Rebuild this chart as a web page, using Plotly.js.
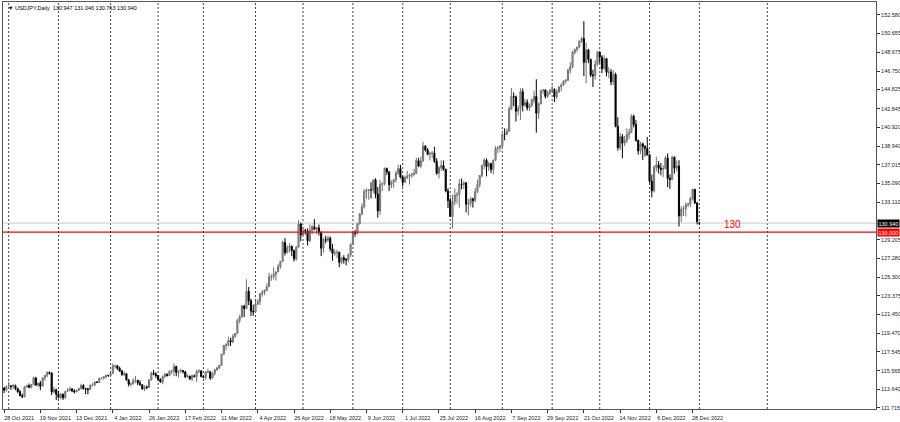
<!DOCTYPE html>
<html>
<head>
<meta charset="utf-8">
<script src="https://cdn.plot.ly/plotly-3.0.1.min.js"></script>
<style>
  html, body { margin: 0; padding: 0; background: #fff; }
  #graph { width: 900px; height: 422px; }
</style>
</head>
<body>
<div id="graph"></div>
<script>
// USDJPY daily candles, 28 Oct 2021 .. 2 Jan 2023 (one bar per weekday).

const symbolName = "USDJPY,Daily";

const opens = [
  113.80,113.57,114.00,114.02,113.96,114.05,113.75,113.41,112.99,112.88,
  113.90,114.04,113.87,114.14,114.84,114.10,114.28,114.00,114.84,115.12,
  115.42,115.35,113.38,113.62,113.15,112.80,113.14,112.79,113.45,113.53,
  113.71,113.48,113.40,113.56,113.73,114.05,113.72,113.69,113.63,114.09,
  114.11,114.42,114.38,114.81,114.83,114.96,115.10,115.08,115.31,116.11,
  116.11,115.84,115.56,115.21,115.28,114.63,114.19,114.20,114.59,114.59,
  114.31,114.11,113.68,113.91,113.85,114.66,115.36,115.24,115.10,114.68,
  114.42,114.98,115.22,115.09,115.53,115.55,116.04,115.41,115.58,115.61,
  115.48,114.93,115.02,114.75,115.08,114.97,115.52,115.56,114.99,114.89,
  115.46,115.48,114.82,115.29,115.67,115.87,116.14,117.30,118.22,118.28,
  118.73,118.58,119.16,119.46,120.81,121.18,122.33,122.05,123.85,122.86,
  121.79,121.70,122.52,122.79,123.60,123.76,123.94,124.33,125.35,125.40,
  125.60,125.87,126.41,126.97,128.92,127.87,128.40,128.52,128.09,127.23,
  128.43,130.84,129.71,130.17,130.12,129.10,130.20,130.56,130.28,130.45,
  129.97,128.33,129.22,129.17,129.37,128.27,127.79,127.87,127.90,126.86,
  127.33,127.12,127.11,127.63,128.70,129.95,129.87,130.87,131.89,132.64,
  134.25,134.37,134.40,134.39,135.44,133.96,132.21,134.96,135.05,136.63,
  136.25,134.93,135.20,135.45,136.12,136.60,135.72,135.18,135.68,135.85,
  135.93,136.01,136.11,137.43,136.86,137.42,138.94,138.55,138.10,138.17,
  138.22,137.38,136.12,136.69,136.93,136.55,134.28,133.28,131.62,133.16,
  133.84,133.90,135.00,134.95,135.12,132.90,132.99,133.47,133.28,134.22,
  134.95,135.88,136.95,137.47,136.80,137.13,136.52,137.48,138.71,138.80,
  138.96,140.20,140.19,140.48,142.81,144.10,144.06,142.58,142.86,144.60,
  143.18,143.48,142.92,143.19,143.74,144.11,142.37,143.35,144.72,144.77,
  144.12,144.43,144.74,144.82,144.08,144.58,145.10,145.30,145.70,145.78,
  146.88,147.22,148.70,148.98,149.24,149.88,150.13,147.65,148.95,147.98,
  146.35,146.27,147.47,148.70,148.20,147.00,148.05,146.61,146.65,145.62,
  146.40,141.00,138.78,139.93,139.26,139.53,140.17,140.36,142.06,141.20,
  139.55,138.45,139.18,138.90,138.69,138.05,135.30,134.30,136.76,137.00,
  136.65,136.55,136.60,137.72,135.60,135.48,137.80,136.65,136.88,131.68,
  132.40,132.45,132.85,132.90,133.48,134.45,133.05,130.947
];

const highs = [
  113.88,114.05,114.44,114.08,114.23,114.15,113.82,113.60,113.21,114.00,
  114.13,114.26,114.20,114.97,114.95,114.39,114.53,114.90,115.15,115.52,
  115.50,115.42,113.89,113.73,113.50,113.28,113.22,113.48,113.80,113.95,
  113.74,113.66,113.63,113.80,114.25,114.19,113.80,113.82,114.16,114.30,
  114.46,114.47,114.85,114.94,115.03,115.19,115.16,115.40,116.35,116.20,
  116.13,116.03,115.68,115.52,115.30,114.72,114.37,114.82,115.06,114.65,
  114.60,114.21,114.09,114.05,114.69,115.47,115.68,115.44,115.15,114.80,
  115.10,115.39,115.30,115.63,115.70,116.34,116.11,115.62,115.80,115.66,
  115.53,115.23,115.07,115.20,115.19,115.69,115.76,115.66,115.10,115.55,
  115.80,115.53,115.43,115.81,116.00,116.22,117.35,118.29,118.44,119.13,
  119.02,119.41,119.49,120.99,121.41,122.41,122.44,125.09,124.30,123.07,
  122.46,122.88,123.05,123.66,123.97,124.06,124.68,125.77,125.63,126.32,
  125.88,126.68,127.01,129.11,129.40,128.64,128.85,128.62,128.19,128.57,
  131.25,131.00,130.46,130.36,130.38,130.80,130.77,131.35,130.55,130.79,
  130.09,129.41,129.63,129.62,129.55,128.76,128.19,128.16,127.99,127.41,
  127.60,127.31,127.79,128.86,130.15,130.22,130.98,131.97,133.00,134.48,
  134.56,134.43,135.20,135.45,135.60,134.69,135.43,135.17,136.72,136.70,
  136.37,135.38,135.51,136.38,137.00,137.00,135.86,135.90,136.37,136.05,
  136.17,136.57,137.75,137.70,137.87,139.39,139.05,138.73,138.37,138.42,
  138.88,137.68,136.87,137.47,137.45,136.58,134.55,133.56,133.91,134.55,
  134.20,135.50,135.57,135.30,135.22,133.45,133.70,133.59,134.60,135.47,
  135.90,137.03,137.70,137.67,137.32,137.21,137.55,138.93,138.93,139.05,
  140.23,140.79,140.78,143.08,144.99,144.54,144.20,143.17,144.96,144.95,
  143.85,143.80,143.38,143.90,144.70,145.90,143.47,144.80,144.90,144.85,
  144.68,144.89,145.23,144.97,144.85,145.15,145.48,145.80,145.92,146.98,
  147.68,148.85,149.10,149.28,149.90,150.29,151.94,149.70,149.05,148.00,
  146.90,147.88,148.84,148.80,148.40,148.40,148.10,147.14,146.95,146.84,
  146.59,141.95,140.30,140.20,140.00,140.78,140.75,142.25,142.23,141.65,
  139.62,139.40,139.32,139.05,139.90,138.10,135.98,136.93,137.86,137.40,
  137.20,136.95,137.95,138.18,135.99,137.95,137.85,137.45,137.48,132.70,
  132.70,133.10,133.05,133.65,134.50,134.50,133.10,131.046
];

const lows = [
  113.26,113.42,113.80,113.59,113.68,113.56,113.30,112.94,112.73,112.82,
  113.83,113.76,113.75,114.10,114.00,113.86,113.59,113.95,114.55,114.92,
  115.19,113.06,113.27,112.53,112.70,112.63,112.55,112.67,113.40,113.45,
  113.36,113.22,113.36,113.49,113.64,113.63,113.15,113.14,113.61,113.95,
  114.00,114.30,114.34,114.68,114.65,114.82,114.96,115.00,115.24,115.81,
  115.68,115.49,115.05,115.03,114.56,113.95,113.95,114.19,114.31,114.10,
  114.05,113.63,113.47,113.66,113.79,114.55,115.11,114.84,114.55,114.34,
  114.17,114.82,114.98,115.01,115.25,115.04,115.02,114.88,115.34,115.30,
  114.84,114.85,114.61,114.50,114.92,114.41,115.33,114.90,114.80,114.64,
  115.36,114.65,114.81,115.08,115.60,115.76,116.08,117.27,117.70,118.09,
  118.17,118.45,119.02,119.40,120.52,121.11,121.18,122.03,122.42,121.28,
  121.30,121.67,122.41,122.42,123.29,123.44,123.93,124.30,124.94,125.07,
  124.97,125.85,126.19,126.92,127.58,127.76,127.90,127.51,126.94,127.03,
  128.40,129.05,129.66,129.75,128.62,128.97,129.80,130.26,129.80,129.64,
  127.51,127.86,128.86,128.98,128.00,127.03,127.52,127.30,126.36,126.66,
  126.72,126.55,126.87,127.43,128.66,129.52,129.76,130.77,131.75,132.45,
  133.48,133.38,133.50,134.09,133.52,131.50,131.79,134.26,134.84,135.94,
  134.27,134.54,134.62,135.16,135.95,135.58,134.74,135.10,135.52,134.95,
  135.62,135.79,136.07,136.81,136.63,137.28,138.38,137.98,137.45,137.68,
  137.20,135.96,135.58,136.37,136.38,134.14,132.51,131.58,130.40,132.80,
  132.95,132.54,134.45,134.50,132.04,131.73,132.65,132.55,133.10,134.05,
  134.65,135.70,136.55,135.80,136.36,136.15,136.00,137.45,138.20,138.35,
  138.70,139.55,140.08,140.43,142.70,143.10,141.50,142.15,141.68,142.55,
  143.05,142.65,142.60,143.00,143.40,140.34,141.80,143.27,144.36,143.90,
  143.98,144.28,144.60,143.53,143.84,144.47,144.65,145.25,145.43,145.77,
  146.49,147.05,148.48,148.73,149.10,149.68,146.23,145.47,147.60,146.13,
  145.10,145.85,147.28,147.58,146.52,146.90,146.20,146.00,145.28,145.30,
  140.90,138.48,138.55,137.68,138.95,139.25,139.70,140.30,140.90,139.40,
  138.05,138.10,137.50,137.88,137.95,135.10,133.62,134.12,136.30,136.10,
  135.90,135.72,136.55,134.68,134.50,135.40,136.10,136.30,130.58,131.05,
  131.68,131.62,132.62,132.60,133.30,132.92,130.80,130.763
];

const closes = [
  113.57,113.95,114.02,113.96,114.05,113.75,113.41,112.99,112.88,113.90,
  114.04,113.87,114.14,114.84,114.10,114.28,114.00,114.84,115.12,115.42,
  115.35,113.38,113.62,113.15,112.80,113.14,112.79,113.45,113.53,113.71,
  113.48,113.40,113.56,113.73,114.05,113.72,113.69,113.63,114.09,114.11,
  114.42,114.38,114.81,114.83,114.96,115.10,115.08,115.31,116.11,116.11,
  115.84,115.56,115.21,115.28,114.63,114.19,114.20,114.59,114.59,114.31,
  114.11,113.68,113.91,113.85,114.66,115.36,115.24,115.10,114.68,114.42,
  114.98,115.22,115.09,115.53,115.55,116.04,115.41,115.58,115.61,115.48,
  114.93,115.02,114.75,115.08,114.97,115.52,115.56,114.99,114.89,115.46,
  115.48,114.82,115.29,115.67,115.87,116.14,117.30,118.22,118.28,118.73,
  118.58,119.16,119.46,120.81,121.18,122.33,122.05,123.85,122.86,121.79,
  121.70,122.52,122.79,123.60,123.76,123.94,124.33,125.35,125.40,125.60,
  125.87,126.41,126.97,128.92,127.87,128.40,128.52,128.09,127.23,128.43,
  130.84,129.71,130.17,130.12,129.10,130.20,130.56,130.28,130.45,129.97,
  128.33,129.22,129.17,129.37,128.27,127.79,127.87,127.90,126.86,127.33,
  127.12,127.11,127.63,128.70,129.95,129.87,130.87,131.89,132.64,134.25,
  134.37,134.40,134.39,135.44,133.96,132.21,134.96,135.05,136.63,136.25,
  134.93,135.20,135.45,136.12,136.60,135.72,135.18,135.68,135.85,135.93,
  136.01,136.11,137.43,136.86,137.42,138.94,138.55,138.10,138.17,138.22,
  137.38,136.12,136.69,136.93,136.55,134.28,133.28,131.62,133.16,133.84,
  133.90,135.00,134.95,135.12,132.90,132.99,133.47,133.28,134.22,134.95,
  135.88,136.95,137.47,136.80,137.13,136.52,137.48,138.71,138.80,138.96,
  140.20,140.19,140.48,142.81,144.10,144.06,142.58,142.86,144.60,143.18,
  143.48,142.92,143.19,143.74,144.11,142.37,143.35,144.72,144.77,144.12,
  144.43,144.74,144.82,144.08,144.58,145.10,145.30,145.70,145.78,146.88,
  147.22,148.70,148.98,149.24,149.88,150.13,147.65,148.95,147.98,146.35,
  146.27,147.47,148.70,148.20,147.00,148.05,146.61,146.65,145.62,146.40,
  141.00,138.78,139.93,139.26,139.53,140.17,140.36,142.06,141.20,139.55,
  138.45,139.18,138.90,138.69,138.05,135.30,134.30,136.76,137.00,136.65,
  136.55,136.60,137.72,135.60,135.48,137.80,136.65,136.88,131.68,132.40,
  132.45,132.85,132.90,133.48,134.45,133.05,131.10,130.940
];

// date labels on the time scale (bar index -> text)
const xTickIdx = [0,16,32,48,64,80,96,112,128,144,160,176,192,208,224,240,256,272,288,304];
const xTickText = [
  "28 Oct 2021","19 Nov 2021","13 Dec 2021","4 Jan 2022","26 Jan 2022",
  "17 Feb 2022","11 Mar 2022","4 Apr 2022","26 Apr 2022","18 May 2022",
  "9 Jun 2022","1 Jul 2022","25 Jul 2022","16 Aug 2022","7 Sep 2022",
  "29 Sep 2022","21 Oct 2022","14 Nov 2022","6 Dec 2022","28 Dec 2022"
];

// first bar of each month -> dotted separators
const monthStartIdx = [2,24,47,68,88,111,132,154,176,197,220,242,263,285,307,337];

const yTickVals = [152.580,150.655,148.675,146.750,144.825,142.845,140.920,138.940,137.015,
  135.090,133.110,129.205,127.280,125.300,123.375,121.450,119.470,117.545,115.565,113.640,111.715];

const levelPrice = 130.000;
const levelLabel = "130";

const n = closes.length;
const xs = closes.map((_, i) => i);
const lastOpen = opens[n - 1];
const lastHigh = highs[n - 1];
const lastLow = lows[n - 1];
const lastClose = closes[n - 1];

const candles = {
  type: "candlestick",
  x: xs,
  open: opens,
  high: highs,
  low: lows,
  close: closes,
  increasing: { line: { color: "#707070", width: 1 }, fillcolor: "#b8b8b8" },
  decreasing: { line: { color: "#000000", width: 1 }, fillcolor: "#000000" },
  whiskerwidth: 0,
  hoverinfo: "skip",
};

const shapes = monthStartIdx.map((m) => ({
  type: "line",
  xref: "x",
  yref: "paper",
  x0: m,
  x1: m,
  y0: 0,
  y1: 1,
  layer: "below",
  line: { color: "#444", width: 1, dash: "2px,2px" },
}));

// bid line and the 130 level
shapes.push({
  type: "line", xref: "paper", yref: "y", x0: 0, x1: 1, y0: lastClose, y1: lastClose,
  layer: "below", line: { color: "#c8c8c8", width: 1 },
});
shapes.push({
  type: "line", xref: "paper", yref: "y", x0: 0, x1: 1, y0: levelPrice, y1: levelPrice,
  line: { color: "#ff0000", width: 1.3 },
});

const axisFont = { family: "Liberation Sans, Arial, sans-serif", size: 5.5, color: "#222" };

const annotations = [
  {
    xref: "paper", yref: "paper", x: 0, y: 1, xanchor: "left", yanchor: "top",
    xshift: 3, yshift: -1, showarrow: false,
    text: "▼ " + symbolName + "  " + [lastOpen, lastHigh, lastLow, lastClose].map((v) => v.toFixed(3)).join(" "),
    font: { family: "Liberation Sans, Arial, sans-serif", size: 5.5, color: "#000" },
  },
  {
    xref: "paper", yref: "y", x: 1, y: lastClose, xanchor: "left", yanchor: "middle",
    xshift: 1, showarrow: false, text: lastClose.toFixed(3), bgcolor: "#000",
    borderpad: 0.5, font: { family: "Liberation Sans, Arial, sans-serif", size: 5.5, color: "#fff" },
  },
  {
    xref: "paper", yref: "y", x: 1, y: levelPrice, xanchor: "left", yanchor: "middle",
    xshift: 1, showarrow: false, text: levelPrice.toFixed(3), bgcolor: "#ff0000",
    borderpad: 0.5, font: { family: "Liberation Sans, Arial, sans-serif", size: 5.5, color: "#fff" },
  },
  {
    xref: "paper", yref: "y", x: 0.824, y: levelPrice, xanchor: "left", yanchor: "bottom",
    yshift: 0, showarrow: false, text: levelLabel,
    font: { family: "Liberation Sans, Arial, sans-serif", size: 10, color: "#ff0000" },
  },
];

const layout = {
  width: 900,
  height: 422,
  margin: { l: 3, r: 24, t: 2, b: 13 },
  paper_bgcolor: "#ffffff",
  plot_bgcolor: "#ffffff",
  showlegend: false,
  font: axisFont,
  xaxis: {
    type: "linear",
    range: [-0.5, 385],
    rangeslider: { visible: false },
    showgrid: false,
    zeroline: false,
    tickmode: "array",
    tickvals: xTickIdx,
    ticktext: xTickText,
    ticks: "outside",
    ticklen: 3,
    tickcolor: "#333",
    tickangle: 0,
    ticklabelshift: 15,
    tickfont: axisFont,
    showline: true,
    mirror: true,
    linecolor: "#555",
    linewidth: 1,
    fixedrange: true,
  },
  yaxis: {
    side: "right",
    range: [111.61, 153.93],
    showgrid: false,
    zeroline: false,
    tickmode: "array",
    tickvals: yTickVals,
    ticktext: yTickVals.map((v) => v.toFixed(3)),
    ticks: "outside",
    ticklen: 3,
    tickcolor: "#333",
    tickfont: axisFont,
    showline: true,
    mirror: true,
    linecolor: "#555",
    linewidth: 1,
    fixedrange: true,
  },
  shapes: shapes,
  annotations: annotations,
};

const config = { staticPlot: true, displayModeBar: false };

Plotly.newPlot("graph", [candles], layout, config);
</script>
</body>
</html>
